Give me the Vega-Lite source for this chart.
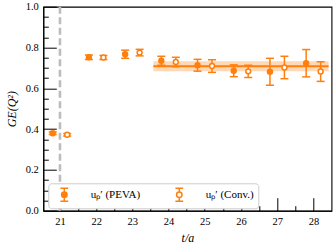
{
  "$schema": "https://vega.github.io/schema/vega-lite/v6.json",
  "width": 288.2,
  "height": 204,
  "autosize": "none",
  "padding": {"left": 43.3, "top": 6.7, "right": 3.5, "bottom": 40.3},
  "config": {
    "view": {"stroke": "black", "strokeWidth": 1.1},
    "axis": {
      "grid": false,
      "domainColor": "black",
      "domainWidth": 1.1,
      "tickColor": "black",
      "tickWidth": 1,
      "labelFont": "Liberation Serif",
      "labelFontSize": 10.5,
      "labelColor": "black",
      "titleFont": "Liberation Serif",
      "titleFontWeight": "normal",
      "titleFontStyle": "italic",
      "titleFontSize": 12,
      "titleColor": "black"
    }
  },
  "datasets": {
    "pts": [
      {"t": 20.8, "s": "uₚ′ (PEVA)", "v": 0.380, "lo": 0.374, "hi": 0.386},
      {"t": 21.8, "s": "uₚ′ (PEVA)", "v": 0.752, "lo": 0.741, "hi": 0.763},
      {"t": 22.8, "s": "uₚ′ (PEVA)", "v": 0.767, "lo": 0.747, "hi": 0.787},
      {"t": 23.8, "s": "uₚ′ (PEVA)", "v": 0.735, "lo": 0.713, "hi": 0.757},
      {"t": 24.8, "s": "uₚ′ (PEVA)", "v": 0.713, "lo": 0.684, "hi": 0.742},
      {"t": 25.8, "s": "uₚ′ (PEVA)", "v": 0.686, "lo": 0.657, "hi": 0.715},
      {"t": 26.8, "s": "uₚ′ (PEVA)", "v": 0.681, "lo": 0.615, "hi": 0.747},
      {"t": 27.8, "s": "uₚ′ (PEVA)", "v": 0.723, "lo": 0.656, "hi": 0.790},
      {"t": 21.2, "s": "uₚ′ (Conv.)", "v": 0.372, "lo": 0.366, "hi": 0.378},
      {"t": 22.2, "s": "uₚ′ (Conv.)", "v": 0.751, "lo": 0.741, "hi": 0.761},
      {"t": 23.2, "s": "uₚ′ (Conv.)", "v": 0.775, "lo": 0.759, "hi": 0.791},
      {"t": 24.2, "s": "uₚ′ (Conv.)", "v": 0.729, "lo": 0.706, "hi": 0.752},
      {"t": 25.2, "s": "uₚ′ (Conv.)", "v": 0.709, "lo": 0.678, "hi": 0.740},
      {"t": 26.2, "s": "uₚ′ (Conv.)", "v": 0.683, "lo": 0.653, "hi": 0.713},
      {"t": 27.2, "s": "uₚ′ (Conv.)", "v": 0.702, "lo": 0.647, "hi": 0.757},
      {"t": 28.2, "s": "uₚ′ (Conv.)", "v": 0.682, "lo": 0.634, "hi": 0.730}
    ],
    "fit": [{"t0": 23.58, "t1": 28.42, "v": 0.708, "lo": 0.684, "hi": 0.732}],
    "vline": [{"t": 21}]
  },
  "resolve": {"axis": {"x": "independent", "y": "independent"}},
  "layer": [
    {
      "data": {"name": "vline"},
      "mark": {"type": "rule", "color": "#bcbcbc", "strokeWidth": 2.6, "strokeDash": [7, 3.5], "opacity": 1},
      "encoding": {
        "x": {"field": "t", "type": "quantitative", "scale": {"domain": [20.54, 28.5], "nice": false, "zero": false},
              "axis": {"orient": "bottom", "values": [21.5, 22.5, 23.5, 24.5, 25.5, 26.5, 27.5], "ticks": true, "tickSize": -5, "labels": false, "domain": false, "title": null}}
      }
    },
    {
      "data": {"name": "fit"},
      "mark": {"type": "rect", "color": "#ff7f0e", "opacity": 0.3},
      "encoding": {
        "x": {"field": "t0", "type": "quantitative",
              "axis": {"orient": "bottom", "values": [21, 22, 23, 24, 25, 26, 27, 28], "ticks": false, "domain": true, "labelPadding": 6, "title": "t/a", "titlePadding": 5, "format": "d"}},
        "x2": {"field": "t1"},
        "y": {"field": "lo", "type": "quantitative", "scale": {"domain": [0, 1], "nice": false, "zero": false},
              "axis": {"orient": "left", "values": [0, 0.2, 0.4, 0.6, 0.8, 1.0], "ticks": false, "domain": true, "labelPadding": 5, "format": ".1f", "title": "GE(Q²)", "titlePadding": 7}},
        "y2": {"field": "hi"}
      }
    },
    {
      "data": {"name": "fit"},
      "mark": {"type": "rule", "color": "#ff7f0e", "strokeWidth": 2},
      "encoding": {
        "x": {"field": "t0", "type": "quantitative",
              "axis": {"orient": "bottom", "values": [21, 22, 23, 24, 25, 26, 27, 28], "ticks": true, "tickSize": -13, "labels": false, "domain": false, "title": null}},
        "x2": {"field": "t1"},
        "y": {"field": "v", "type": "quantitative",
              "axis": {"orient": "left", "values": [0, 0.2, 0.4, 0.6, 0.8, 1.0], "ticks": true, "tickSize": -13, "labels": false, "domain": false, "title": null}}
      }
    },
    {
      "data": {"name": "pts"},
      "mark": {"type": "rule", "color": "#ff7f0e", "strokeWidth": 1.5},
      "encoding": {
        "x": {"field": "t", "type": "quantitative", "axis": null},
        "y": {"field": "lo", "type": "quantitative",
              "axis": {"orient": "left", "values": [0.05, 0.1, 0.15, 0.25, 0.3, 0.35, 0.45, 0.5, 0.55, 0.65, 0.7, 0.75, 0.85, 0.9, 0.95], "ticks": true, "tickSize": -5, "labels": false, "domain": false, "title": null}},
        "y2": {"field": "hi"}
      }
    },
    {
      "data": {"name": "pts"},
      "mark": {"type": "tick", "orient": "horizontal", "color": "#ff7f0e", "size": 8, "thickness": 1.5, "opacity": 1},
      "encoding": {
        "x": {"field": "t", "type": "quantitative", "axis": null},
        "y": {"field": "lo", "type": "quantitative", "axis": null}
      }
    },
    {
      "data": {"name": "pts"},
      "mark": {"type": "tick", "orient": "horizontal", "color": "#ff7f0e", "size": 8, "thickness": 1.5, "opacity": 1},
      "encoding": {
        "x": {"field": "t", "type": "quantitative", "axis": null},
        "y": {"field": "hi", "type": "quantitative", "axis": null}
      }
    },
    {
      "data": {"name": "pts"},
      "mark": {"type": "point", "shape": "circle", "size": 24, "stroke": "#ff7f0e", "strokeWidth": 1.5, "opacity": 1},
      "encoding": {
        "x": {"field": "t", "type": "quantitative", "axis": null},
        "y": {"field": "v", "type": "quantitative", "axis": null},
        "fill": {
          "field": "s", "type": "nominal",
          "scale": {"domain": ["uₚ′ (PEVA)", "uₚ′ (Conv.)"], "range": ["#ff7f0e", "white"]},
          "legend": {
            "title": null,
            "orient": "none",
            "legendX": 5,
            "legendY": 176.6,
            "direction": "horizontal",
            "symbolType": "M-0.6,-1L0.6,-1M0,-1L0,-0.42M0,0.42L0,1M-0.6,1L0.6,1M0.42,0A0.42,0.42,0,1,1,-0.42,0A0.42,0.42,0,1,1,0.42,0Z",
            "symbolSize": 169,
            "symbolStrokeColor": "#ff7f0e",
            "symbolStrokeWidth": 1.5,
            "symbolOpacity": 1,
            "symbolOffset": 4.5,
            "labelOffset": 19,
            "labelFont": "Liberation Serif",
            "labelFontSize": 11,
            "labelColor": "black",
            "columnPadding": 27,
            "padding": 4,
            "fillColor": "white",
            "strokeColor": "#cccccc",
            "cornerRadius": 3
          }
        }
      }
    }
  ]
}
